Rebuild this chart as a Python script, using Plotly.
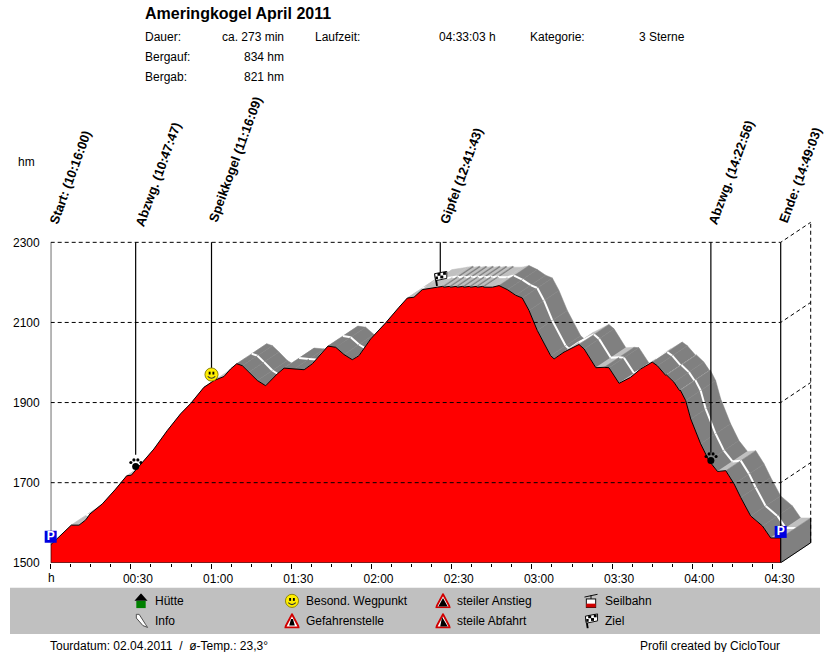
import base64
import plotly.graph_objects as go

W, H = 830, 652
# the page comes out 660 px tall and is squeezed back to 652 in the picture
PAGE_SCALE = 660 / 652

# elevation profile
minutes = [0, 5.0, 7.7, 10.6, 13.1, 14.7, 19.3, 24.3, 28.4, 30.2, 33.7, 38.6, 43.6, 48.6, 52.4, 57.3, 61.1, 64.8,
           67.3, 69.6, 71.7, 74.2, 77.3, 80.4, 82.9, 84.8, 87.3, 91, 94.8, 97.9, 101, 103.7, 106.6, 109.7, 112.8,
           115.3, 119.7, 125.3, 130.3, 133.4, 135.9, 139, 144.6, 146.6, 147.1, 149.1, 149.6, 151.6, 152.1, 154.1,
           154.6, 156.6, 157.1, 159.1, 159.6, 161.6, 162.1, 165.2, 167.7, 170.8, 173.9, 176.4, 178.9, 182, 187,
           188.3, 192, 197.6, 199.5, 203.9, 207, 208.8, 212.6, 216.9, 220.7, 225, 226.9, 230, 230.3, 233.1, 235.2,
           235.5, 237.5, 239.4, 243.1, 246.2, 249.4, 252.5, 255.6, 258.1, 261.8, 266.2, 269.3, 273.05]
elevation = [1545, 1576, 1594, 1594, 1607, 1622, 1647, 1684, 1717, 1719, 1745, 1784, 1830, 1872, 1898, 1938, 1955, 1965,
             1984, 1997, 1992, 1976, 1955, 1942, 1959, 1972, 1986, 1984, 1982, 1997, 2022, 2041, 2038, 2020, 2007,
             2017, 2059, 2099, 2138, 2161, 2163, 2182, 2188, 2190, 2188, 2190, 2188, 2190, 2188, 2190,
             2188, 2190, 2188, 2190, 2188, 2190, 2188, 2188, 2192, 2182, 2168, 2161, 2130, 2080, 2017,
             2009, 2026, 2045, 2034, 1987, 1988, 1987, 1948, 1963, 1984, 2001, 1992, 1968, 1969, 1951, 1930,
             1931, 1905, 1859, 1797, 1755, 1728, 1730, 1697, 1663, 1617, 1592, 1562, 1562]

# waypoints
way_times = [0, 31.78, 60.15, 145.72, 246.93, 273.05]
way_stem_end = [1500, 1770, 1985, 2222, 1775, 1500]
way_labels = ['Start: (10:16:00)', 'Abzwg. (10:47:47)', 'Speikkogel (11:16:09)', 'Gipfel (12:41:43)',
              'Abzwg. (14:22:56)', 'Ende: (14:49:03)']
way_label_x = [70, 158, 235, 461, 731, 800]
way_label_y = [177, 174, 159, 176, 172, 175]

grid_levels = [1700, 1900, 2100, 2300]
y_ticks = [1500, 1700, 1900, 2100, 2300]
x_ticks = [0, 30, 60, 90, 120, 150, 180, 210, 240, 270]
x_tick_labels = ['', '00:30', '01:00', '01:30', '02:00', '02:30', '03:00', '03:30', '04:00', '04:30']
x_minor = [7.5, 15, 22.5, 37.5, 45, 52.5, 67.5, 75, 82.5, 97.5, 105, 112.5, 127.5, 135, 142.5, 157.5, 165, 172.5,
           187.5, 195, 202.5, 217.5, 225, 232.5, 247.5, 255, 262.5]

PX_PER_MIN = 730 / 273.05
HM_PER_PX = 2.5
AXIS_LEFT = 50.7
DEPTH_X = 30 / PX_PER_MIN  # 3d ribbon offset
DEPTH_Y = 20 * HM_PER_PX

FONT = 'Liberation Sans'
LIGHT, DARK = '#c0c0c0', '#808080'


def px(x):
    return x / W


def py(y):
    return 1 - y * PAGE_SCALE / H


def svg(body):
    doc = '<svg xmlns="http://www.w3.org/2000/svg" viewBox="0 0 16 16">' + body + '</svg>'
    return 'data:image/svg+xml;base64,' + base64.b64encode(doc.encode()).decode()


SMILEY = svg('<circle cx="8" cy="8" r="7" fill="#ffee00" stroke="#8a8000"/>'
             '<rect x="5" y="5" width="2" height="3"/><rect x="9" y="5" width="2" height="3"/>'
             '<path d="M4 10 Q8 14 12 10" fill="none" stroke="#333" stroke-width="1.2"/>')
PAW = svg('<ellipse cx="8" cy="11" rx="4" ry="4"/><circle cx="2.5" cy="6.5" r="1.8"/><circle cx="6" cy="3.5" r="1.8"/>'
          '<circle cx="10.5" cy="3.5" r="1.8"/><circle cx="14" cy="6.5" r="1.8"/>')
FLAG = svg('<path d="M2.5 3 L4.5 16" stroke="#000" stroke-width="2"/>'
           '<path d="M2 3 L15 0.5 L15 8 L3 10.5 Z" fill="#fff" stroke="#000"/>'
           '<rect x="5" y="2.2" width="3.2" height="3"/><rect x="11" y="1.2" width="3" height="3"/>'
           '<rect x="8" y="5" width="3.2" height="3"/><rect x="3" y="6" width="2.5" height="3"/>')
HOUSE = svg('<path d="M8 0 L15 8 L1 8 Z"/><rect x="3" y="8" width="10" height="8" fill="#008000"/>')
PIN = svg('<path d="M3 1 L6 1 L13 12 L15 15 L10 13 L3 5 Z" fill="#fff" stroke="#444"/>')
DANGER = svg('<path d="M8 1 L15.5 15 L0.5 15 Z" fill="#fff" stroke="#d00000" stroke-width="2"/>'
             '<path d="M7 6 L9 6 L11 13 L5 13 Z"/>')
CLIMB = svg('<path d="M8 1 L15.5 15 L0.5 15 Z" fill="#fff" stroke="#d00000" stroke-width="2"/>'
            '<path d="M8 5 L13 14 L3 14 Z"/>')
DESCENT = svg('<path d="M8 1 L15.5 15 L0.5 15 Z" fill="#fff" stroke="#d00000" stroke-width="2"/>'
              '<path d="M7 4 L13 14 L5 14 Z"/>')
CABLE = svg('<path d="M1 4 L15 1 M8 2 L8 6" stroke="#000"/><rect x="3" y="6" width="10" height="9" fill="#fff" stroke="#000"/>'
            '<rect x="3" y="11" width="10" height="4" fill="#d00000"/>')

legend_icons = [HOUSE, PIN, SMILEY, DANGER, CLIMB, DESCENT, CABLE, FLAG]
legend_labels = ['Hütte', 'Info', 'Besond. Wegpunkt', 'Gefahrenstelle', 'steiler Anstieg', 'steile Abfahrt',
                 'Seilbahn', 'Ziel']
legend_x = [141, 141, 292, 292, 443, 443, 591, 591]
legend_y = [600, 620, 600, 620, 600, 620, 600, 620]

fig = go.Figure()

# ribbon behind the profile, painted left to right
for i in range(len(minutes) - 1):
    t0, t1 = minutes[i], minutes[i + 1]
    z0, z1 = elevation[i], elevation[i + 1]
    color = DARK if z1 < z0 else LIGHT
    fig.add_trace(go.Scatter(x=[t0, t1, t1 + DEPTH_X, t0 + DEPTH_X, t0],
                             y=[z0, z1, z1 + DEPTH_Y, z0 + DEPTH_Y, z0],
                             mode='lines', fill='toself', fillcolor=color,
                             line=dict(color=color, width=0.5)))
    fig.add_trace(go.Scatter(x=[t0 + DEPTH_X / 2, t1 + DEPTH_X / 2],
                             y=[z0 + DEPTH_Y / 2, z1 + DEPTH_Y / 2],
                             mode='lines', line=dict(color='white', width=2)))

# end wall
fig.add_trace(go.Scatter(x=[273.05, 273.05 + DEPTH_X, 273.05 + DEPTH_X, 273.05, 273.05],
                         y=[1500, 1500 + DEPTH_Y, elevation[-1] + DEPTH_Y, elevation[-1], 1500],
                         mode='lines', fill='toself', fillcolor=DARK, line=dict(color=DARK, width=0.5)))

# profile
fig.add_trace(go.Scatter(x=minutes, y=elevation, mode='lines', fill='tozeroy', fillcolor='#ff0000',
                         line=dict(color='black', width=1)))

# grid on top of everything
for level in grid_levels:
    fig.add_trace(go.Scatter(x=[0, 273.05, 273.05 + DEPTH_X], y=[level, level, level + DEPTH_Y], mode='lines',
                             line=dict(color='black', width=1, dash='4px,3px')))
fig.add_trace(go.Scatter(x=[273.05 + DEPTH_X, 273.05 + DEPTH_X], y=[1500 + DEPTH_Y, 2300 + DEPTH_Y], mode='lines',
                         line=dict(color='black', width=1, dash='4px,3px')))
fig.add_trace(go.Scatter(x=[0, 273.05, 273.05 + DEPTH_X], y=[1500, 1500, 1500 + DEPTH_Y], mode='lines',
                         line=dict(color='black', width=1)))
fig.add_trace(go.Scatter(x=[273.05 + DEPTH_X, 273.05 + DEPTH_X], y=[1500 + DEPTH_Y, elevation[-1] + DEPTH_Y],
                         mode='lines', line=dict(color='black', width=1)))

# waypoint stems
for t, end in zip(way_times, way_stem_end):
    fig.add_trace(go.Scatter(x=[t, t], y=[2300, end], mode='lines', line=dict(color='black', width=1.2)))

# parking markers
fig.add_trace(go.Scatter(x=[way_times[0], way_times[-1]], y=[1565, 1577], mode='markers+text', text=['P', 'P'],
                         textposition='middle center', textfont=dict(family=FONT, size=12, color='white', weight='bold'),
                         marker=dict(symbol='square', size=12, color='#0000e0'), cliponaxis=False))

images = []
for icon, t, z, size in [(PAW, way_times[1], 1747, 14), (SMILEY, way_times[2], 1970, 15),
                         (FLAG, way_times[3], 2210, 15), (PAW, way_times[4], 1762, 14)]:
    images.append(dict(source=icon, xref='x', yref='y', x=t, y=z, sizex=size / PX_PER_MIN, sizey=size * HM_PER_PX,
                       xanchor='center', yanchor='middle', sizing='stretch', layer='above'))
for icon, lx, ly in zip(legend_icons, legend_x, legend_y):
    images.append(dict(source=icon, xref='paper', yref='paper', x=px(lx), y=py(ly), sizex=px(15),
                       sizey=15 * PAGE_SCALE / H, xanchor='center', yanchor='middle', sizing='stretch', layer='above'))


def label(x, y, text, anchor='left', size=12, bold=False, angle=0):
    return dict(x=px(x), y=py(y), xref='paper', yref='paper', text=text, showarrow=False, xanchor=anchor,
                yanchor='middle', textangle=angle, borderpad=0,
                font=dict(family=FONT, size=size, color='black', weight='bold' if bold else 'normal'))


annotations = [
    label(144, 13, 'Ameringkogel April 2011', size=16, bold=True),
    label(144, 37, 'Dauer:'), label(285, 37, 'ca. 273 min', 'right'),
    label(314, 37, 'Laufzeit:'), label(497, 37, '04:33:03 h', 'right'),
    label(529, 37, 'Kategorie:'), label(638, 37, '3 Sterne'),
    label(144, 57, 'Bergauf:'), label(285, 57, '834 hm', 'right'),
    label(144, 77, 'Bergab:'), label(285, 77, '821 hm', 'right'),
    label(17, 162, 'hm'),
    label(51, 577, 'h', 'center'),
    label(49, 645, 'Tourdatum: 02.04.2011  /  ø-Temp.: 23,3°'),
    label(781, 645, 'Profil created by CicloTour', 'right'),
]
for text, lx, ly in zip(way_labels, way_label_x, way_label_y):
    annotations.append(label(lx, ly, text, 'center', size=13, bold=True, angle=-70))
for text, lx, ly in zip(legend_labels, legend_x, legend_y):
    annotations.append(label(lx + 13, ly, text))

fig.update_layout(
    width=W, height=H,
    margin=dict(l=0, r=0, t=0, b=0),
    paper_bgcolor='white', plot_bgcolor='white',
    showlegend=False,
    hovermode=False,
    font=dict(family=FONT, size=12, color='black'),
    annotations=annotations,
    images=images,
    shapes=[dict(type='rect', xref='paper', yref='paper', x0=px(10), x1=px(820), y0=py(587), y1=py(633),
                 fillcolor='#c0c0c0', line_width=0, layer='below')],
    xaxis=dict(domain=[px(AXIS_LEFT), 1], range=[0, (W - AXIS_LEFT) / PX_PER_MIN], showgrid=False, zeroline=False,
               showline=False, tickmode='array', tickvals=x_ticks, ticktext=x_tick_labels, ticks='outside', ticklen=5,
               tickcolor='black', ticklabelshift=7, tickfont=dict(family=FONT, size=12),
               minor=dict(tickmode='array', tickvals=x_minor, ticks='outside', ticklen=3, tickcolor='black',
                          showgrid=False)),
    yaxis=dict(domain=[py(562), 1], range=[1500, 1500 + 562 * HM_PER_PX], showgrid=False, zeroline=False,
               showline=False, tickmode='array', tickvals=y_ticks, ticks='', ticklabelstandoff=10,
               tickfont=dict(family=FONT, size=12)),
)

fig.write_html('out.html', config=dict(displayModeBar=False), post_script="document.body.style.margin='0';")
